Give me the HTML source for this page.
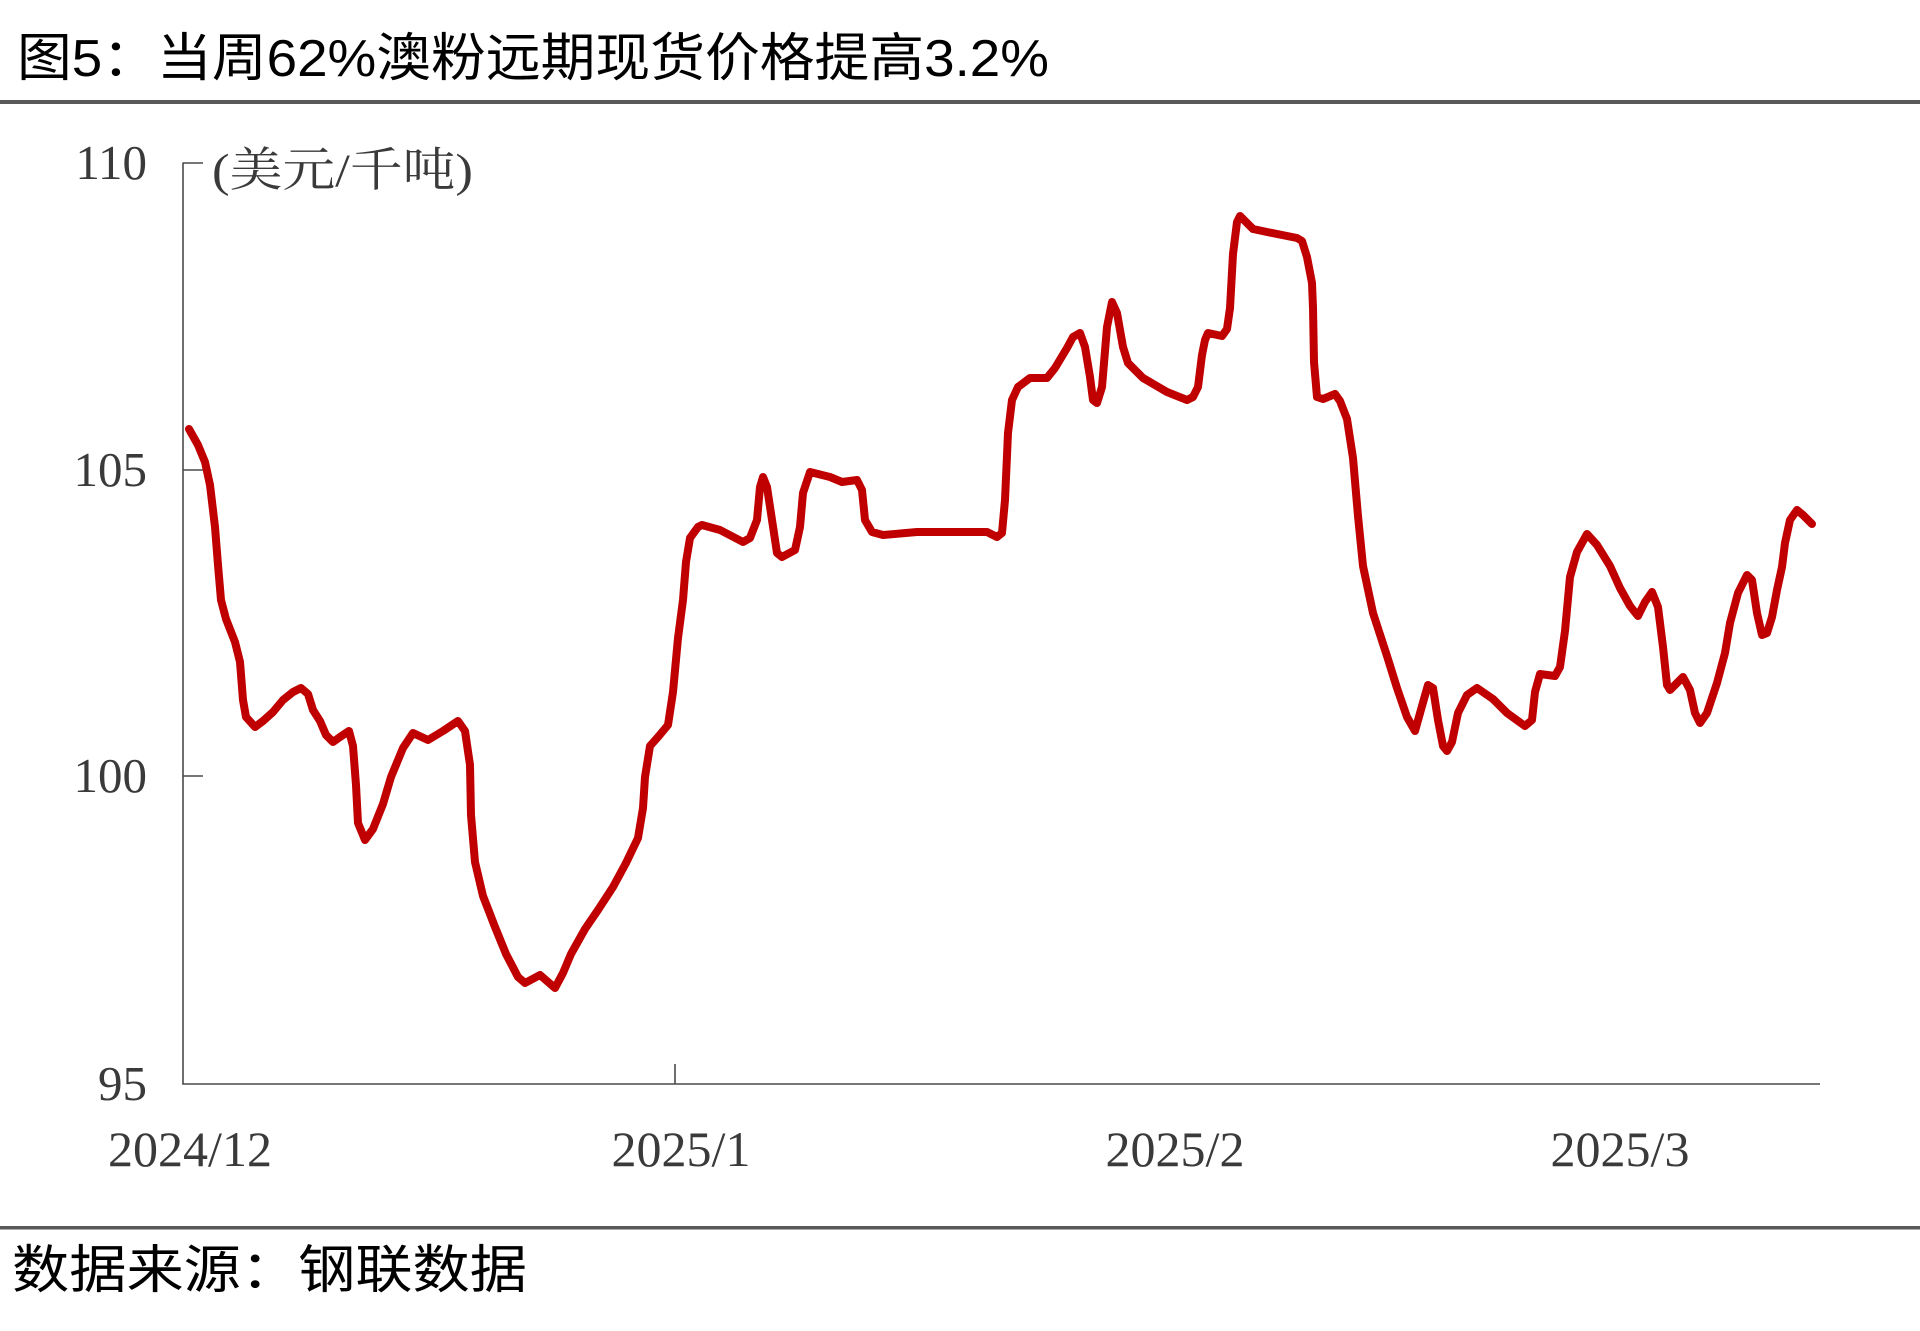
<!DOCTYPE html>
<html>
<head>
<meta charset="utf-8">
<style>
  html,body{margin:0;padding:0;background:#ffffff;}
  svg{display:block;}
</style>
</head>
<body>
<svg width="1920" height="1331" viewBox="0 0 1920 1331" xmlns="http://www.w3.org/2000/svg">
  <rect x="0" y="0" width="1920" height="1331" fill="#ffffff"/>

  <!-- Title -->
  <text x="17" y="76" font-size="52" fill="#000000" textLength="1032" lengthAdjust="spacingAndGlyphs"
        font-family="'Liberation Sans','Noto Sans CJK SC',sans-serif">图5：当周62%澳粉远期现货价格提高3.2%</text>
  <rect x="0" y="100" width="1920" height="4" fill="#595959"/>

  <!-- Axes -->
  <g stroke="#4a4a4a" stroke-width="1.6" fill="none">
    <line x1="183" y1="162.5" x2="183" y2="1084"/>
    <line x1="182.2" y1="1084" x2="1820" y2="1084"/>
    <line x1="183" y1="163" x2="203" y2="163"/>
    <line x1="183" y1="470" x2="203" y2="470"/>
    <line x1="183" y1="776" x2="203" y2="776"/>
    <line x1="675" y1="1064" x2="675" y2="1084"/>
  </g>

  <!-- Y labels -->
  <g font-family="'Liberation Serif',serif" font-size="49" fill="#3a3a3a" text-anchor="end">
    <text x="147" y="179">110</text>
    <text x="147" y="486">105</text>
    <text x="147" y="792">100</text>
    <text x="147" y="1100">95</text>
  </g>

  <!-- Unit -->
  <text x="212" y="186" font-size="47" fill="#3a3a3a" textLength="261" lengthAdjust="spacingAndGlyphs"
        font-family="'Liberation Serif','Noto Serif CJK SC',serif">(美元/千吨)</text>

  <!-- X labels -->
  <g font-family="'Liberation Serif',serif" font-size="50" fill="#3a3a3a" text-anchor="middle">
    <text x="190" y="1166">2024/12</text>
    <text x="681" y="1166">2025/1</text>
    <text x="1175" y="1166">2025/2</text>
    <text x="1620" y="1166">2025/3</text>
  </g>

  <!-- Series -->
  <polyline fill="none" stroke="#C00000" stroke-width="8" stroke-linejoin="round" stroke-linecap="round"
    points="189,429 198,445 205,462 210,485 215,527 218,565 221,600 226,619 235,642 240,662 243,700 246,717 255,727 263,721 273,712 283,700 293,692 301,688 308,694 313,710 320,721 326,735 333,742 340,737 349,731 353,746 356,785 358,823 365,840 373,829 383,804 391,777 403,748 413,733 428,740 443,731 458,721 465,731 470,765 471,815 475,862 483,896 495,927 506,954 518,977 525,983 540,975 555,988 563,973 571,954 585,929 598,910 613,887 626,863 638,838 643,808 645,777 650,746 658,737 668,725 673,692 678,638 683,600 686,562 690,538 698,527 702,525 720,530 743,542 750,538 757,520 760,487 763,477 767,487 772,520 777,553 782,557 795,550 800,527 803,493 810,472 830,477 842,482 857,480 862,490 865,520 872,532 883,535 917,532 977,532 987,532 997,537 1002,533 1005,500 1008,433 1012,400 1018,387 1030,378 1047,378 1055,368 1067,348 1073,337 1080,333 1085,347 1090,377 1093,400 1097,403 1102,387 1107,327 1112,302 1117,313 1123,347 1128,363 1143,378 1167,392 1187,400 1193,397 1198,387 1202,355 1205,340 1208,333 1222,336 1227,329 1230,308 1233,254 1237,222 1240,216 1253,229 1267,232 1297,238 1302,241 1307,257 1312,283 1313,308 1314,362 1317,397 1323,399 1335,394 1340,401 1347,419 1353,458 1358,516 1363,566 1373,613 1387,656 1397,688 1407,717 1415,731 1422,706 1428,685 1433,688 1438,720 1443,746 1447,751 1452,742 1458,713 1467,695 1477,688 1493,699 1507,713 1525,726 1532,720 1535,692 1540,674 1555,676 1560,667 1565,631 1570,577 1577,552 1587,534 1597,545 1610,566 1620,588 1630,606 1638,616 1645,602 1652,592 1658,607 1663,647 1667,685 1670,690 1683,677 1690,690 1695,713 1700,723 1707,713 1717,683 1725,653 1730,623 1738,593 1747,575 1752,580 1757,613 1762,635 1767,633 1772,617 1777,590 1782,567 1785,543 1790,520 1797,510 1803,515 1812,524"/>

  <!-- Bottom rule and source -->
  <rect x="0" y="1226" width="1920" height="3.5" fill="#595959"/>
  <text x="12" y="1288" font-size="52" fill="#000000" textLength="515" lengthAdjust="spacingAndGlyphs"
        font-family="'Liberation Sans','Noto Sans CJK SC',sans-serif">数据来源：钢联数据</text>
</svg>
</body>
</html>
